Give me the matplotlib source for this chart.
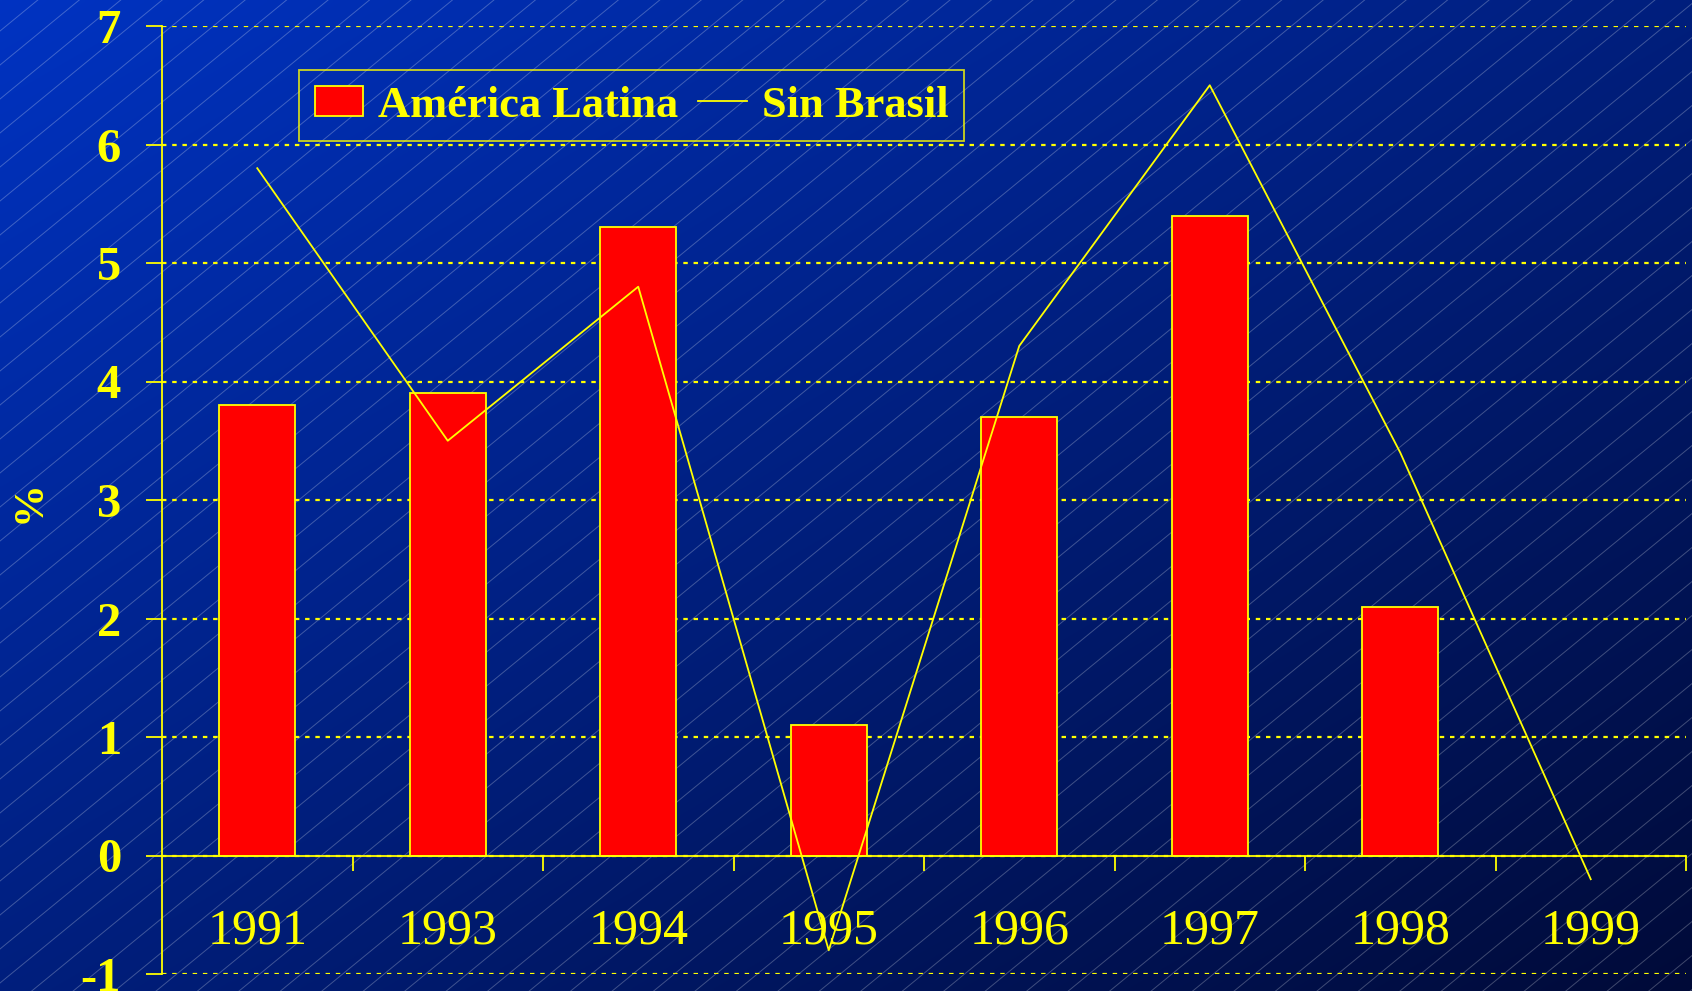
import numpy as np
import matplotlib.pyplot as plt
from matplotlib.patches import Patch
from matplotlib.lines import Line2D

# Data
years = ["1991", "1993", "1994", "1995", "1996", "1997", "1998", "1999"]
america_latina = [3.8, 3.9, 5.3, 1.1, 3.7, 5.4, 2.1, np.nan]
sin_brasil = [5.8, 3.5, 4.8, -0.8, 4.3, 6.5, 3.4, -0.2]

yellow = "#FFFF00"
serif = "Liberation Serif"

W, H = 1692, 991
fig = plt.figure(figsize=(W / 100, H / 100), dpi=100)

# Background: diagonal blue gradient with thin diagonal stripes
bg = fig.add_axes([0, 0, 1, 1], zorder=0)
gx, gy = np.meshgrid(np.linspace(0, 1, 400), np.linspace(0, 1, 240))
t = (gx + gy) / 2
c0 = np.array([0.00, 0.20, 0.76])
c1 = np.array([0.00, 0.04, 0.22])
grad = c0[None, None, :] * (1 - t[..., None]) + c1[None, None, :] * t[..., None]
bg.imshow(grad, extent=[0, W, H, 0], aspect="auto", interpolation="bilinear")
for c in np.arange(-1.0 * W, H + 40, 34):
    bg.plot([0, W], [H - c, H - (c + 0.82 * W)], color="white", alpha=0.25, lw=0.7)
bg.set_xlim(0, W)
bg.set_ylim(H, 0)
bg.axis("off")

# Main axes
ax = fig.add_axes([162 / W, 1 - 974 / H, (1686 - 162) / W, (974 - 26) / H], zorder=1)
ax.patch.set_alpha(0)

x = np.arange(len(years))
ax.bar(x, america_latina, width=0.4, color="#FF0000", edgecolor=yellow, linewidth=1.3, zorder=2)
ax.plot(x, sin_brasil, color=yellow, linewidth=1.3, zorder=3, clip_on=False)

ax.set_xlim(-0.5, len(years) - 0.5)
ax.set_ylim(-1, 7)

for s in ["top", "right"]:
    ax.spines[s].set_visible(False)
ax.spines["bottom"].set_position(("data", 0))
ax.spines["bottom"].set_color(yellow)
ax.spines["left"].set_color(yellow)
ax.spines["bottom"].set_linewidth(1.3)
ax.spines["left"].set_linewidth(1.3)

ax.set_xticks(x)
ax.set_xticklabels(years, fontfamily=serif, fontsize=36, color=yellow)
ax.tick_params(axis="x", which="major", length=0, pad=38)
ax.set_xticks(np.arange(0.5, len(years), 1), minor=True)
ax.tick_params(axis="x", which="minor", length=11, width=1.3, color=yellow, direction="out")

ax.set_yticks(range(-1, 8))
ax.set_yticklabels([str(v) for v in range(-1, 8)], fontfamily=serif, fontweight="bold",
                   fontsize=35, color=yellow)
ax.tick_params(axis="y", length=11.5, width=1.3, color=yellow, direction="out", pad=18)

ax.yaxis.grid(True, color=yellow, linestyle=(0, (2.0, 2.6)), linewidth=1.6)
ax.set_axisbelow(True)

fig.text(30 / W, 1 - 502 / H, "%", rotation=90, ha="center", va="center",
         fontfamily=serif, fontweight="bold", fontsize=31, color=yellow)

handles = [Patch(facecolor="#FF0000", edgecolor=yellow, linewidth=1.3),
           Line2D([0], [0], color=yellow, linewidth=1.3)]
leg = ax.legend(handles, ["América Latina", "Sin Brasil"], ncol=2, loc="upper left",
                bbox_to_anchor=(299 / W, 1 - 70 / H), bbox_transform=fig.transFigure,
                borderaxespad=0, borderpad=0.35, handlelength=1.1, handleheight=0.68,
                handletextpad=0.33, columnspacing=0.45, fancybox=False,
                prop={"family": serif, "weight": "bold", "size": 32})
leg.get_frame().set_facecolor("none")
leg.get_frame().set_edgecolor(yellow)
leg.get_frame().set_linewidth(1.3)
for txt in leg.get_texts():
    txt.set_color(yellow)

fig.savefig("out.png", dpi=100)
